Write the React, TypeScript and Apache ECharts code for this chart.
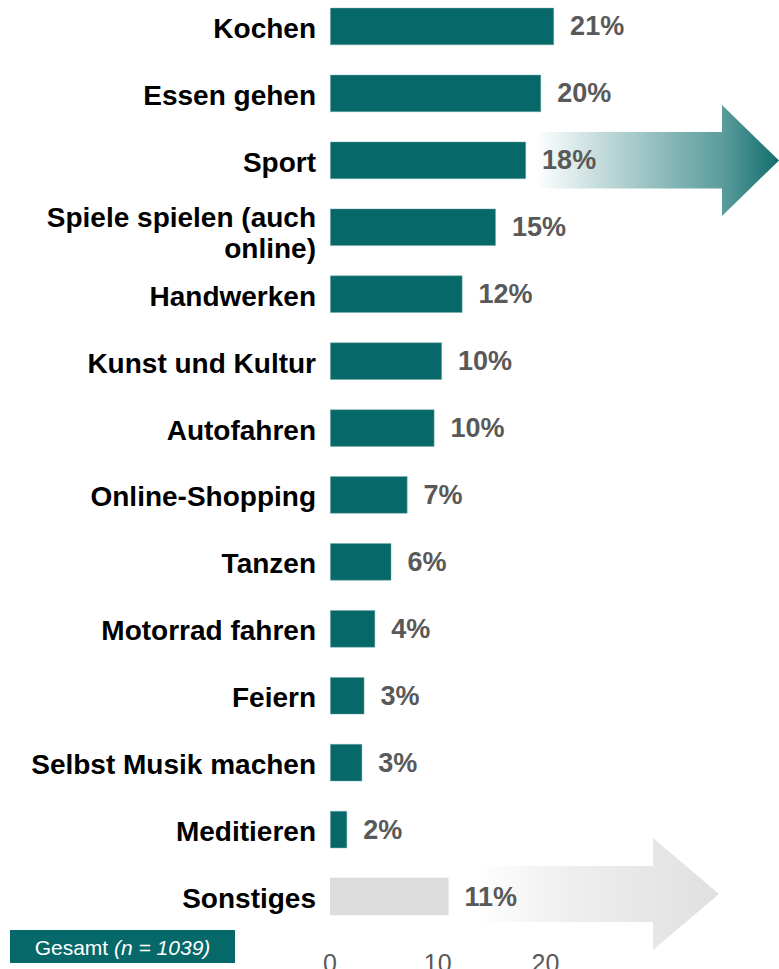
import React, { useEffect, useRef } from "react";
import * as echarts from "echarts";

const categories = [
  "Kochen",
  "Essen gehen",
  "Sport",
  "Spiele spielen (auch\nonline)",
  "Handwerken",
  "Kunst und Kultur",
  "Autofahren",
  "Online-Shopping",
  "Tanzen",
  "Motorrad fahren",
  "Feiern",
  "Selbst Musik machen",
  "Meditieren",
  "Sonstiges",
];
const values = [20.8, 19.6, 18.2, 15.4, 12.3, 10.4, 9.7, 7.2, 5.7, 4.2, 3.2, 3.0, 1.6, 11.0];
const tickValues = [0, 10, 20];
const footnoteLabel = "Gesamt";
const footnoteN = "(n = 1039)";

const FONT = 'Arial, "Liberation Sans", Helvetica, sans-serif';
const TEAL = "#066868";
const GREY_BAR = "#dcdcdc";

export default function App() {
  const ref = useRef<HTMLDivElement>(null);
  useEffect(() => {
    if (!ref.current) return;
    const chart = echarts.init(ref.current, null, { renderer: "svg" });
    const data = values.map((v, i) => {
      const grey = categories[i] === "Sonstiges";
      return {
        value: v,
        itemStyle: grey
          ? { color: GREY_BAR, borderWidth: 0 }
          : { color: TEAL, borderColor: "rgba(120,170,170,0.6)", borderWidth: 0.8 },
      };
    });
    const catStyle = {
      color: "#000000",
      fontSize: 28,
      fontWeight: "bold",
      fontFamily: FONT,
      lineHeight: 31,
      align: "right",
    };
    chart.setOption({
      animation: false,
      backgroundColor: "#ffffff",
      grid: {
        left: 330,
        right: 18,
        top: -7,
        bottom: 39,
        containLabel: false,
        outerBoundsMode: "none",
      },
      xAxis: {
        type: "value",
        min: 0,
        max: 40,
        interval: 10,
        axisLine: { show: false },
        axisTick: { show: false },
        splitLine: { show: false },
        axisLabel: {
          customValues: tickValues,
          color: "#595959",
          fontSize: 25,
          fontFamily: FONT,
          margin: 20,
        },
      },
      yAxis: {
        type: "category",
        inverse: true,
        data: categories,
        axisLine: { show: false },
        axisTick: { show: false },
        axisLabel: {
          ...catStyle,
          margin: 14,
          formatter: (v: string) => (v.indexOf("\n") >= 0 ? `{m|${v}}` : `{s|${v}}`),
          rich: {
            s: { ...catStyle, padding: [4, 0, 0, 0] },
            m: { ...catStyle, padding: [12, 0, 0, 0] },
          },
        },
      },
      graphic: [
        {
          type: "polygon",
          z: 0,
          shape: {
            points: [
              [536, 132],
              [722, 132],
              [722, 105],
              [779, 160.5],
              [722, 216],
              [722, 188.5],
              [536, 188.5],
            ],
          },
          style: {
            fill: new echarts.graphic.LinearGradient(0, 0, 1, 0, [
              { offset: 0, color: "#ffffff" },
              { offset: 0.26, color: "#c5dcdc" },
              { offset: 0.54, color: "#8ab8b8" },
              { offset: 0.77, color: "#5a9c9c" },
              { offset: 1, color: "#126d6d" },
            ]),
          },
        },
        {
          type: "polygon",
          z: 0,
          shape: {
            points: [
              [475, 866],
              [653, 866],
              [653, 838],
              [719, 894],
              [653, 950],
              [653, 922],
              [475, 922],
            ],
          },
          style: {
            fill: new echarts.graphic.LinearGradient(0, 0, 1, 0, [
              { offset: 0, color: "#ffffff" },
              { offset: 0.4, color: "#eeeeee" },
              { offset: 1, color: "#e0e0e0" },
            ]),
          },
        },
        {
          type: "rect",
          z: 5,
          shape: { x: 10, y: 930, width: 225, height: 33 },
          style: { fill: TEAL },
        },
        {
          type: "text",
          z: 6,
          x: 122.5,
          y: 947,
          style: {
            text: `{a|${footnoteLabel} }{b|${footnoteN}}`,
            align: "center",
            verticalAlign: "middle",
            rich: {
              a: { fill: "#ffffff", fontSize: 21, fontFamily: FONT },
              b: { fill: "#ffffff", fontSize: 21, fontFamily: FONT, fontStyle: "italic" },
            },
          },
        },
      ],
      series: [
        {
          type: "bar",
          z: 2,
          data,
          barWidth: 37.5,
          label: {
            show: true,
            position: "right",
            distance: 16,
            color: "#595959",
            fontSize: 27,
            fontWeight: "bold",
            fontFamily: FONT,
            padding: [5, 0, 0, 0],
            formatter: (p: any) => `${Math.round(p.value)}%`,
          },
        },
      ],
    });
    return () => chart.dispose();
  }, []);
  return (
    <div
      ref={ref}
      style={{ position: "fixed", left: 0, top: 0, width: 779, height: 969 }}
    />
  );
}
